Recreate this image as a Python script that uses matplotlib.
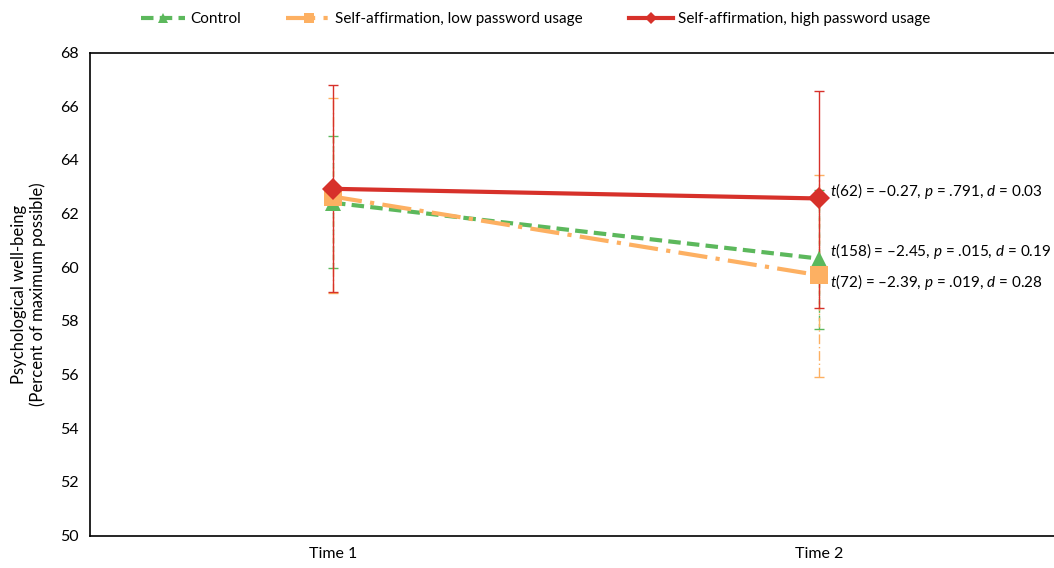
import numpy as np
import matplotlib
matplotlib.use("Agg")
import matplotlib.pyplot as plt

plt.rcParams['font.family'] = ['Lato', 'DejaVu Sans']
plt.rcParams['mathtext.fontset'] = 'custom'
plt.rcParams['mathtext.rm'] = 'Lato'
plt.rcParams['mathtext.it'] = 'Lato:italic'

times = ["Time 1", "Time 2"]

# means and error bar extents (lower, upper)
control = [62.4, 60.32]
control_lo = [2.44, 2.62]
control_hi = [2.48, 2.55]

low_pw = [62.63, 59.7]
low_lo = [3.59, 3.78]
low_hi = [3.69, 3.75]

high_pw = [62.92, 62.56]
high_lo = [3.86, 4.10]
high_hi = [3.88, 4.02]

stats = ["$t$(62) = \u20130.27, $p$ = .791, $d$ = 0.03",
         "$t$(158) = \u20132.45, $p$ = .015, $d$ = 0.19",
         "$t$(72) = \u20132.39, $p$ = .019, $d$ = 0.28"]
stat_y = [62.85, 60.6, 59.45]

green = '#5CB85C'
orange = '#FDB062'
red = '#D7312A'

fig = plt.figure(figsize=(10.54, 5.68), dpi=100)
ax = fig.add_axes([90/1054, 32.5/568, 972/1054, 483/568])
x = np.arange(len(times))

series = [
    (control, control_lo, control_hi, green, (0, (3, 1.5)), (0, (4, 2)), '^', 11, "Control"),
    (low_pw, low_lo, low_hi, orange, (0, (7, 2, 1, 2)), (0, (7, 2, 1, 2)), 's', 13,
     "Self-affirmation, low password usage"),
    (high_pw, high_lo, high_hi, red, '-', '-', 'D', 11, "Self-affirmation, high password usage"),
]

for i, (y, lo, hi, c, ls, els, m, ms, lab) in enumerate(series):
    _, caps, bars = ax.errorbar(x, y, yerr=[lo, hi], color=c, ecolor=c, elinewidth=1,
                                capsize=3.5, capthick=1, fmt='none', zorder=2 + i)
    for b in bars:
        b.set_linestyle(els)
    ax.plot(x, y, color=c, linestyle=ls, linewidth=3, marker=m, markersize=ms,
            markeredgewidth=0, label=lab, zorder=5 + i)

for s, yy in zip(stats, stat_y):
    ax.text(1.022, yy, s, fontsize=11, va='center', ha='left', zorder=10)

ax.set_xlim(-0.5, 1.5)
ax.set_ylim(50, 68)
ax.set_yticks(np.arange(50, 69, 2))
ax.set_xticks(x)
ax.set_xticklabels(times)
ax.tick_params(length=0, labelsize=11.5, pad=8)
ax.set_ylabel("Psychological well-being\n(Percent of maximum possible)", fontsize=12, labelpad=10)
for sp in ax.spines.values():
    sp.set_linewidth(1.2)

handles, labels = ax.get_legend_handles_labels()
leg = fig.legend(handles, labels, loc='upper center', bbox_to_anchor=(0.508, 1.003), ncol=3,
                 frameon=False, fontsize=11, handlelength=2.9, columnspacing=3.0,
                 handletextpad=0.3, markerscale=0.6)

fig.savefig("out.png", dpi=100)
